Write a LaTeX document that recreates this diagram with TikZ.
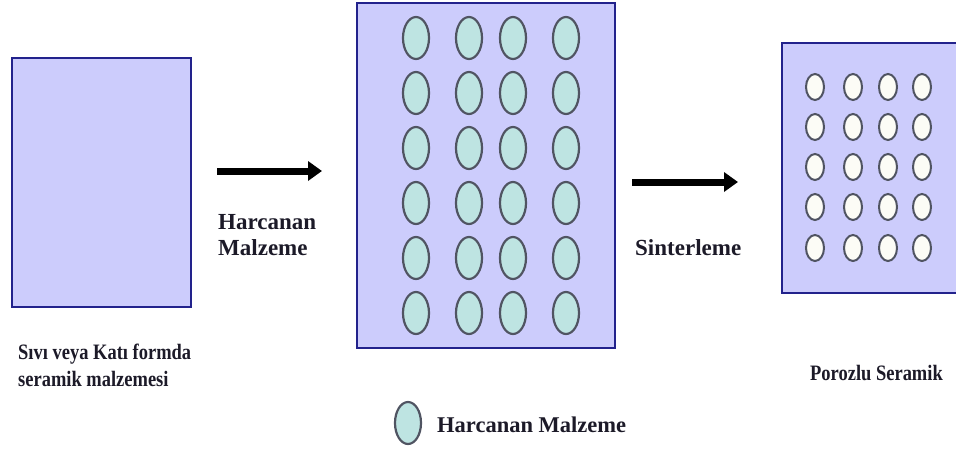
\documentclass[tikz,border=0pt]{standalone}
\usepackage{fontspec}
\setmainfont{Liberation Serif}
\newfontfamily\labelfont{Liberation Serif}
\newfontfamily\narrowfont[FakeStretch=0.84]{Liberation Serif}
\usetikzlibrary{arrows.meta}

\definecolor{slabfill}{RGB}{204,204,252}
\definecolor{slabedge}{RGB}{34,34,140}
\definecolor{fillerfill}{RGB}{190,228,226}
\definecolor{poreedge}{RGB}{80,84,98}
\definecolor{porefill}{RGB}{252,252,246}
\definecolor{inktext}{RGB}{28,26,40}

\tikzset{
  slab/.style={draw=slabedge, fill=slabfill, line width=2.6pt, inner sep=0pt, rectangle},
  filler/.style={draw=poreedge, fill=fillerfill, line width=2.2pt},
  pore/.style={draw=poreedge, fill=porefill, line width=2pt},
  flow/.style={line width=7pt, -{Triangle[length=14pt,width=19pt]}},
  steptext/.style={inner sep=0pt, anchor=base west, text=inktext,
    font=\labelfont\bfseries\fontsize{23}{26}\selectfont},
  legendtext/.style={inner sep=0pt, anchor=base west, text=inktext,
    font=\labelfont\bfseries\fontsize{22.5}{26}\selectfont},
  captext/.style={inner sep=0pt, anchor=base west, text=inktext,
    font=\narrowfont\bfseries\fontsize{22}{27}\selectfont},
}

\begin{document}
\begin{tikzpicture}[x=1pt, y=-1pt]
  \useasboundingbox[fill=white] (0,0) rectangle (956,450);

  % starting material
  \node[slab, minimum width=179pt, minimum height=249pt] (raw) at (101.5,182.5) {};

  % green body with the sacrificial filler
  \node[slab, minimum width=258pt, minimum height=345pt] (green) at (486,175.5) {};
  \foreach \cx in {416,469,513,566}
    \foreach \cy in {38,93,148,203,258,313}
      \draw[filler] (\cx,\cy) ellipse (13pt and 21pt);

  % sintered porous ceramic
  \begin{scope}
    \clip (0,0) rectangle (956,450);
    \node[slab, minimum width=179pt, minimum height=250pt] (porous) at (871.5,168) {};
  \end{scope}
  \foreach \cx in {815,853,888,922}
    \foreach \cy in {87,127,167,207,248}
      \draw[pore] (\cx,\cy) ellipse (9pt and 13pt);

  % process arrows
  \coordinate (flowAa) at (217,171);
  \coordinate (flowAb) at (322,171);
  \coordinate (flowBa) at (632,182);
  \coordinate (flowBb) at (738,182);
  \draw[flow] (flowAa) -- (flowAb);
  \draw[flow] (flowBa) -- (flowBb);

  % step labels
  \node[steptext] (addA) at (218,229) {Harcanan};
  \node[steptext] (addB) at (218,255) {Malzeme};
  \node[steptext] (sinter) at (635,255) {Sinterleme};

  % captions
  \node[captext] (rawA) at (18,359) {Sıvı veya Katı formda};
  \node[captext] (rawB) at (18,386) {seramik malzemesi};
  \node[captext] (porousA) at (810,380) {Porozlu Seramik};

  % legend
  \draw[filler] (408,423) ellipse (13pt and 21pt);
  \node[legendtext] (legend) at (437,432) {Harcanan Malzeme};
\end{tikzpicture}
\end{document}
